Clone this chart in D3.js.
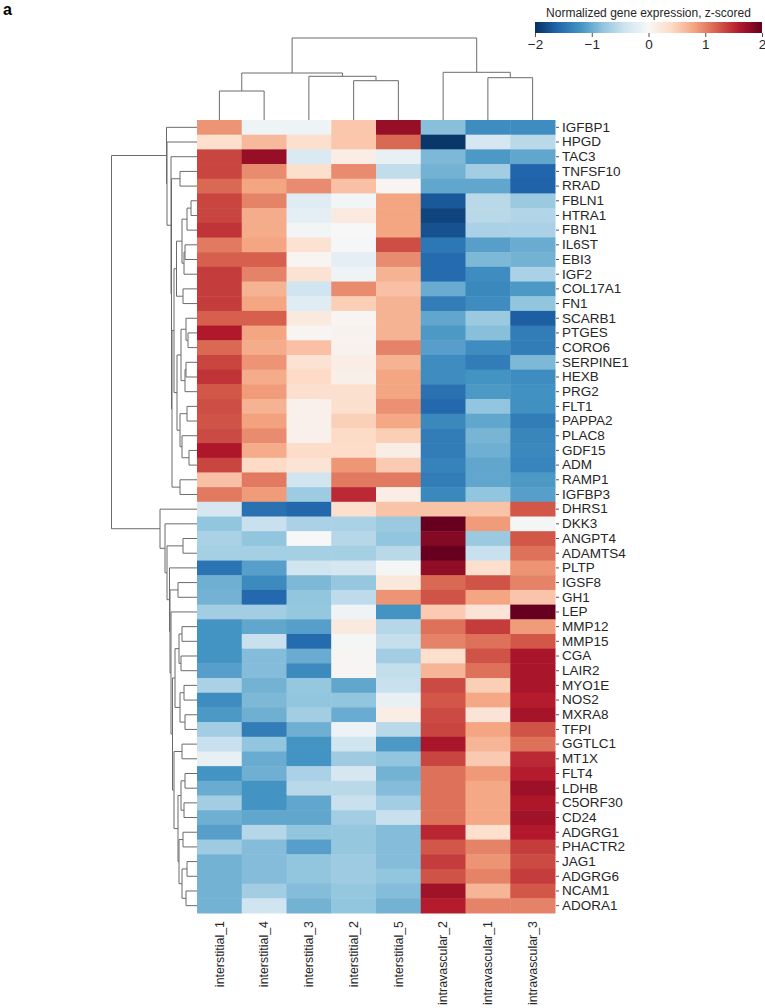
<!DOCTYPE html>
<html><head><meta charset="utf-8">
<script src="https://cdn.jsdelivr.net/npm/d3@7"></script>
<style>
body{margin:0;background:#fff;}
svg{display:block;font-family:"Liberation Sans",Arial,Helvetica,sans-serif;}
</style>
</head><body>
<svg id="chart" width="765" height="1008"></svg>
<script>
// ---------- data ----------
const columns = ["interstitial_1","interstitial_4","interstitial_3","interstitial_2","interstitial_5","intravascular_2","intravascular_1","intravascular_3"];
const genes = ["IGFBP1","HPGD","TAC3","TNFSF10","RRAD","FBLN1","HTRA1","FBN1","IL6ST","EBI3","IGF2","COL17A1","FN1","SCARB1","PTGES","CORO6","SERPINE1","HEXB","PRG2","FLT1","PAPPA2","PLAC8","GDF15","ADM","RAMP1","IGFBP3","DHRS1","DKK3","ANGPT4","ADAMTS4","PLTP","IGSF8","GH1","LEP","MMP12","MMP15","CGA","LAIR2","MYO1E","NOS2","MXRA8","TFPI","GGTLC1","MT1X","FLT4","LDHB","C5ORF30","CD24","ADGRG1","PHACTR2","JAG1","ADGRG6","NCAM1","ADORA1"];
const zscores = [
[0.9,-0.1,-0.1,0.55,1.75,-0.85,-1.25,-1.25],
[0.35,0.65,0.35,0.55,1.15,-1.95,-0.35,-0.55],
[1.35,1.75,-0.3,0.15,-0.15,-0.9,-1.15,-1.05],
[1.35,0.95,0.35,0.95,-0.5,-0.95,-0.7,-1.6],
[1.15,0.8,0.95,0.6,0.05,-1.05,-1.05,-1.62],
[1.35,1.0,-0.25,-0.05,0.8,-1.7,-0.55,-0.75],
[1.35,0.75,-0.2,0.2,0.8,-1.85,-0.55,-0.6],
[1.45,0.75,-0.05,0.0,0.8,-1.75,-0.65,-0.65],
[1.05,0.8,0.3,-0.02,1.3,-1.45,-1.1,-1.0],
[1.2,1.2,0.05,-0.2,0.95,-1.55,-0.9,-0.95],
[1.4,1.0,0.3,-0.1,0.7,-1.55,-1.25,-0.65],
[1.4,0.7,-0.4,0.95,0.6,-1.0,-1.3,-1.15],
[1.4,0.8,-0.25,0.5,0.7,-1.4,-1.25,-0.8],
[1.2,1.2,0.2,0.05,0.7,-1.05,-0.75,-1.65],
[1.6,0.8,0.05,0.07,0.7,-1.15,-0.85,-1.4],
[1.15,0.75,0.6,0.07,1.0,-1.1,-1.25,-1.4],
[1.35,0.9,0.3,0.15,0.7,-1.25,-1.4,-0.9],
[1.45,0.75,0.4,0.12,0.8,-1.25,-1.2,-1.25],
[1.25,0.85,0.33,0.33,0.8,-1.5,-1.15,-1.22],
[1.3,0.7,0.1,0.33,0.92,-1.57,-0.8,-1.23],
[1.27,0.82,0.1,0.48,0.78,-1.3,-1.05,-1.4],
[1.32,0.95,0.1,0.4,0.5,-1.4,-0.93,-1.32],
[1.62,0.75,0.38,0.38,0.15,-1.4,-0.98,-1.3],
[1.35,0.4,0.28,0.88,0.52,-1.35,-1.05,-1.33],
[0.6,1.05,-0.4,1.05,1.05,-1.4,-1.05,-1.15],
[1.05,0.85,-0.72,1.5,0.15,-1.3,-0.8,-1.1],
[-0.35,-1.5,-1.58,0.35,0.58,0.58,0.58,1.25],
[-0.8,-0.45,-0.65,-0.65,-0.75,2.0,0.85,-0.03],
[-0.65,-0.8,0.0,-0.58,-0.8,1.85,-0.75,1.25],
[-0.68,-0.68,-0.68,-0.68,-0.55,2.0,-0.45,1.1],
[-1.48,-1.1,-0.4,-0.35,-0.03,1.78,0.35,0.9],
[-0.98,-1.28,-0.9,-0.78,0.22,1.15,1.27,1.0],
[-0.95,-1.57,-0.8,-0.52,0.9,1.27,0.8,0.57],
[-0.7,-0.7,-0.78,-0.08,-1.2,0.52,0.27,2.0],
[-1.2,-1.05,-1.1,0.2,-0.58,1.1,1.4,0.85],
[-1.2,-0.45,-1.55,-0.03,-0.47,1.0,1.1,1.25],
[-1.2,-0.87,-1.0,0.03,-0.7,0.35,1.27,1.65],
[-1.1,-0.87,-1.28,0.03,-0.48,0.68,1.1,1.65],
[-0.65,-0.95,-0.78,-1.05,-0.45,1.32,0.5,1.65],
[-1.25,-0.9,-0.8,-0.8,-0.15,1.25,0.78,1.58],
[-1.15,-0.98,-0.7,-1.0,0.15,1.32,0.27,1.67],
[-0.7,-1.4,-0.98,-0.12,-0.55,1.35,0.8,1.27],
[-0.45,-0.8,-1.2,-0.4,-1.15,1.65,0.68,1.1],
[-0.15,-1.0,-1.2,-0.72,-0.8,1.35,0.53,1.5],
[-1.2,-0.98,-0.65,-0.35,-0.95,1.1,0.87,1.58],
[-1.0,-1.2,-0.55,-0.55,-0.87,1.1,0.78,1.72],
[-0.7,-1.2,-1.05,-0.45,-0.7,1.1,0.78,1.62],
[-0.98,-1.05,-1.05,-0.7,-0.45,1.1,0.78,1.7],
[-1.1,-0.58,-0.8,-0.78,-0.87,1.52,0.35,1.6],
[-0.72,-0.87,-1.1,-0.78,-0.87,1.25,1.0,1.4],
[-0.95,-0.87,-0.8,-0.72,-0.87,1.4,0.9,1.32],
[-0.95,-0.87,-0.8,-0.72,-0.8,1.27,1.0,1.4],
[-0.95,-0.7,-0.87,-0.78,-0.87,1.7,0.68,1.25],
[-0.95,-0.4,-0.95,-0.8,-0.95,1.58,1.0,1.0]
];
// linkage trees: [height, left, right]
const colTree = [82, [47, [29,"interstitial_1","interstitial_4"], [43.7,"interstitial_3",[39.3,"interstitial_2","interstitial_5"]]],
                     [47.7,"intravascular_2",[42.3,"intravascular_1","intravascular_3"]]];
const rowMain = [2.3,
  [2.05, [1.5, [1.0, [0.6,"FBLN1","HTRA1"], "FBN1"], [1.3, [1.2,"IL6ST","EBI3"], "IGF2"]], [1.4,"COL17A1","FN1"]],
  [2.0, [1.6, [1.1,"SCARB1",[0.9,"PTGES","CORO6"]], [1.2,[1.1,"SERPINE1","HEXB"],"PRG2"]],
        [1.7, [1.0,"FLT1","PAPPA2"], [1.5,"PLAC8",[0.8,"GDF15","ADM"]]]]];
const rowTop = [3.05, "IGFBP1", [3.0, "HPGD", [2.6, "TAC3", [2.55, [1.7,"TNFSF10","RRAD"], [2.5, rowMain, [1.7,"RAMP1","IGFBP3"]]]]]];
const rowGrp1 = [2.2, [1.8, [1.5,"MMP12","MMP15"], [1.6,"CGA","LAIR2"]], [1.7, [1.3,"MYO1E","NOS2"], [1.2,"MXRA8","TFPI"]]];
const rowGrp2 = [2.3, [1.5,"GGTLC1","MT1X"], [1.9, [1.6,[1.2,"FLT4","LDHB"],[1.3,"C5ORF30","CD24"]],
                 [1.8,[1.4,"ADGRG1","PHACTR2"],[1.5,[1.0,"JAG1","ADGRG6"],[1.1,"NCAM1","ADORA1"]]]]];
const rowBottom = [3.7, "DHRS1", [3.2, "DKK3", [3.0, [1.4,"ANGPT4","ADAMTS4"], [2.75, "PLTP", [2.7, [1.9,"IGSF8","GH1"], [2.6, "LEP", [2.45, rowGrp1, rowGrp2]]]]]]];
const rowTree = [8.55, rowTop, rowBottom];
const colorTicks = [-2,-1,0,1,2];
const colorbarTitle = "Normalized gene expression, z-scored";
const rdbuStops = ["#053061","#2166ac","#4393c3","#92c5de","#d1e5f0","#f7f7f7","#fddbc7","#f4a582","#d6604d","#b2182b","#67001f"];

// ---------- layout ----------
const svg = d3.select("#chart");
const hm = {x0:197, x1:555, y0:120, y1:913};
const x = d3.scaleBand().domain(columns).range([hm.x0, hm.x1]);
const y = d3.scaleBand().domain(genes).range([hm.y0, hm.y1]);
const color = d3.scaleLinear().domain(d3.range(11).map(i => -2 + i*0.4)).range(rdbuStops).clamp(true);
const textColor = "#262626";

// heatmap cells
const cells = [];
genes.forEach((g,i) => columns.forEach((c,j) => cells.push({g, c, v: zscores[i][j]})));
svg.append("g").selectAll("rect").data(cells).join("rect")
  .attr("x", d => x(d.c)).attr("y", d => y(d.g))
  .attr("width", x.bandwidth() + 0.5).attr("height", y.bandwidth() + 0.5)
  .attr("fill", d => color(d.v));

// row labels (right axis)
const yAxis = d3.axisRight(y).tickSize(4).tickPadding(3);
const ya = svg.append("g").attr("transform", `translate(${hm.x1},0)`).call(yAxis);
ya.select(".domain").remove();
ya.selectAll("line").attr("stroke", textColor).attr("stroke-width", 0.8).attr("x1", 1);
ya.selectAll("text").attr("font-size", 13.5).attr("fill", textColor).attr("font-family", "Liberation Sans, Arial, sans-serif");

// column labels (rotated)
svg.append("g").selectAll("text").data(columns).join("text")
  .attr("transform", d => `translate(${x(d) + x.bandwidth()/2},${hm.y1 + 8}) rotate(-90)`)
  .attr("text-anchor", "end").attr("dy", "0.35em")
  .attr("font-size", 12.4).attr("fill", textColor).text(d => d);

// ---------- dendrograms ----------
const lineColor = "#6b6b6b";
const rowH = d3.scaleLinear().domain([0, 8.55]).range([hm.x0, 111.5]);
const colH = d3.scaleLinear().domain([0, 82]).range([hm.y0, 38]);
const gRow = svg.append("g").attr("fill","none").attr("stroke", lineColor).attr("stroke-width", 1);
const gCol = svg.append("g").attr("fill","none").attr("stroke", lineColor).attr("stroke-width", 1);

function drawRow(node) {
  if (typeof node === "string") return {p: y(node) + y.bandwidth()/2, h: 0};
  const [h, a, b] = node;
  const A = drawRow(a), B = drawRow(b);
  const p = d3.path();
  p.moveTo(rowH(A.h), A.p); p.lineTo(rowH(h), A.p); p.lineTo(rowH(h), B.p); p.lineTo(rowH(B.h), B.p);
  gRow.append("path").attr("d", p.toString());
  return {p: (A.p + B.p)/2, h};
}
function drawCol(node) {
  if (typeof node === "string") return {p: x(node) + x.bandwidth()/2, h: 0};
  const [h, a, b] = node;
  const A = drawCol(a), B = drawCol(b);
  const p = d3.path();
  p.moveTo(A.p, colH(A.h)); p.lineTo(A.p, colH(h)); p.lineTo(B.p, colH(h)); p.lineTo(B.p, colH(B.h));
  gCol.append("path").attr("d", p.toString());
  return {p: (A.p + B.p)/2, h};
}
drawRow(rowTree);
drawCol(colTree);

// ---------- colorbar ----------
const cb = {x0:535, x1:762, y0:22, y1:33};
const cbx = d3.scaleLinear().domain([-2, 2]).range([cb.x0, cb.x1]);
const defs = svg.append("defs");
const grad = defs.append("linearGradient").attr("id","cbgrad").attr("x1","0%").attr("x2","100%").attr("y1","0%").attr("y2","0%");
d3.range(0, 41).forEach(i => {
  const v = -2 + i*0.1;
  grad.append("stop").attr("offset", `${i/40*100}%`).attr("stop-color", color(v));
});
svg.append("rect").attr("x", cb.x0).attr("y", cb.y0).attr("width", cb.x1 - cb.x0).attr("height", cb.y1 - cb.y0).attr("fill","url(#cbgrad)");
const cbAxis = d3.axisBottom(cbx).tickValues(colorTicks).tickSize(4).tickPadding(2)
  .tickFormat(d => d < 0 ? "\u2212" + Math.abs(d) : String(d));
const cba = svg.append("g").attr("transform", `translate(0,${cb.y1})`).call(cbAxis);
cba.select(".domain").remove();
cba.selectAll("line").attr("stroke", textColor).attr("stroke-width", 0.8);
cba.selectAll("text").attr("font-size", 13.5).attr("fill", textColor).attr("font-family", "Liberation Sans, Arial, sans-serif");
svg.append("text").attr("x", (cb.x0 + cb.x1)/2).attr("y", 17).attr("text-anchor","middle")
  .attr("font-size", 12).attr("fill", textColor).text(colorbarTitle);

// panel label
svg.append("text").attr("x", 3).attr("y", 15).attr("font-size", 16).attr("font-weight","bold").attr("fill","#000").text("a");
</script>
</body></html>
